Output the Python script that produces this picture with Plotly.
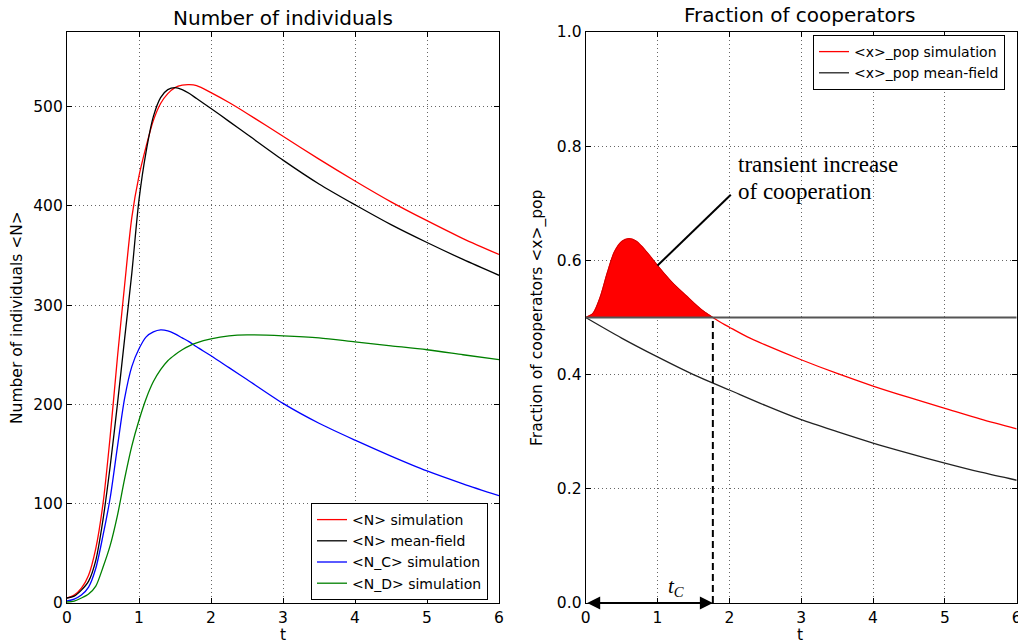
import plotly.graph_objects as go

# ---------------- data ----------------
t_n = [0, 0.1, 0.2, 0.3, 0.4, 0.5, 0.6, 0.7, 0.8, 0.9, 1.0, 1.1, 1.2, 1.3, 1.4, 1.5,
       1.6, 1.7, 1.8, 2.0, 2.25, 2.5, 3.0, 3.5, 4.0, 4.5, 5.0, 5.5, 6.0]
n_sim = [5, 8, 15, 28, 55, 100, 168, 247, 320, 388, 430, 460, 486, 503, 513, 519,
         521.5, 522, 521, 514, 504, 493, 470, 447, 425, 404, 385, 367, 351]
n_mf = [5, 7, 13, 22, 43, 84, 138, 200, 266, 332, 406, 455, 490, 509, 517, 519,
        517, 513, 508, 498, 485, 472, 446, 422, 401, 381, 363, 346, 330]
nc_sim = [2, 4, 8, 16, 35, 68, 106, 157, 206, 238, 256, 268, 273, 275, 274, 271,
          267, 263, 258, 249, 237, 225, 201, 181, 164, 148, 133, 120, 108]
nd_sim = [1, 2, 5, 9, 17, 36, 58, 88, 125, 158, 184, 206, 223, 235, 244, 250,
          255, 259, 262, 266, 269, 270, 269, 267, 263, 259, 255, 250, 245]

t_pop = [0, 0.1, 0.2, 0.3, 0.4, 0.5, 0.6, 0.7, 0.8, 0.9, 1.0, 1.2, 1.4, 1.6, 1.77,
         1.9, 2.0, 2.25, 2.5, 3.0, 3.5, 4.0, 4.5, 5.0, 5.5, 6.0]
x_sim = [0.5, 0.507, 0.535, 0.578, 0.615, 0.633, 0.638, 0.634, 0.622, 0.607, 0.591,
         0.562, 0.538, 0.515, 0.5, 0.49, 0.483, 0.466, 0.452, 0.426, 0.402, 0.380,
         0.360, 0.341, 0.322, 0.305]
t_mf = [0, 0.5, 1.0, 1.5, 2.0, 2.5, 3.0, 3.5, 4.0, 4.5, 5.0, 5.5, 6.0]
x_mf = [0.5, 0.464, 0.431, 0.400, 0.373, 0.346, 0.321, 0.300, 0.280, 0.262, 0.245,
        0.229, 0.215]
X_START = 0.5      # initial fraction of cooperators
T_C = 1.77         # end of transient increase

W, H = 1018, 643

fig = go.Figure()

# ---- left panel ----
left_series = [
    ("&lt;N&gt; simulation", n_sim, "#ff0000"),
    ("&lt;N&gt; mean-field", n_mf, "#000000"),
    ("&lt;N_C&gt; simulation", nc_sim, "#0000ff"),
    ("&lt;N_D&gt; simulation", nd_sim, "#008000"),
]
for name, ys, col in left_series:
    fig.add_trace(go.Scatter(x=t_n, y=ys, mode="lines", name=name,
                             line=dict(color=col, width=1.3, shape="spline", smoothing=0.8),
                             xaxis="x", yaxis="y", legend="legend"))

# ---- right panel ----
fig.add_trace(go.Scatter(x=t_pop, y=x_sim, mode="lines", name="&lt;x&gt;_pop simulation",
                         line=dict(color="#ff0000", width=1.3, shape="spline", smoothing=0.8),
                         xaxis="x2", yaxis="y2", legend="legend2"))
fig.add_trace(go.Scatter(x=t_mf, y=x_mf, mode="lines", name="&lt;x&gt;_pop mean-field",
                         line=dict(color="#222222", width=1.3, shape="spline", smoothing=0.8),
                         xaxis="x2", yaxis="y2", legend="legend2"))

hump_t = [t for t in t_pop if t <= T_C]
hump_x = x_sim[:len(hump_t)]
fig.add_trace(go.Scatter(x=[0, T_C], y=[X_START, X_START], mode="lines",
                         line=dict(width=0, color="rgba(0,0,0,0)"), showlegend=False,
                         hoverinfo="skip", xaxis="x2", yaxis="y2"))
fig.add_trace(go.Scatter(x=hump_t, y=hump_x, mode="lines", fill="tonexty",
                         fillcolor="#ff0000",
                         line=dict(color="#cc0000", width=1, shape="spline", smoothing=0.8),
                         showlegend=False, hoverinfo="skip", xaxis="x2", yaxis="y2"))

# horizontal reference line at 0.5, dashed line at t_C, pointer line
fig.add_shape(type="line", xref="x2", yref="y2", x0=0, x1=6, y0=X_START, y1=X_START,
              line=dict(color="#555555", width=2))
fig.add_shape(type="line", xref="x2", yref="y2", x0=T_C, x1=T_C, y0=0, y1=X_START,
              line=dict(color="#000000", width=2, dash="7px,4px"))
fig.add_shape(type="line", xref="x2", yref="y2", x0=1.0, y0=0.591, x1=2.02, y1=0.715,
              line=dict(color="#000000", width=2))

# ---------------- axes ----------------
axis_common = dict(showline=True, linecolor="black", linewidth=1.2, mirror="ticks",
                   ticks="inside", ticklen=5, tickcolor="black", tickwidth=1,
                   showgrid=True, gridcolor="rgba(0,0,0,0.6)", gridwidth=1,
                   griddash="1px,3px", zeroline=False, automargin=False,
                   ticklabeloverflow="allow",
                   tickfont=dict(family="DejaVu Sans", size=15.5, color="black"))

yd = [40 / H, 611 / H]
legend_common = dict(xanchor="left", yanchor="top", bgcolor="white", bordercolor="black",
                     borderwidth=1, traceorder="normal",
                     font=dict(family="DejaVu Sans", size=14, color="black"))
fig.update_layout(
    width=W, height=H,
    margin=dict(l=0, r=0, t=0, b=0, pad=0, autoexpand=False),
    paper_bgcolor="white", plot_bgcolor="white",
    xaxis=dict(domain=[67 / W, 499 / W], range=[0, 6], dtick=1, anchor="y", **axis_common),
    yaxis=dict(domain=yd, range=[0, 575], dtick=100, anchor="x", **axis_common),
    xaxis2=dict(domain=[585.7 / W, 1016.7 / W], range=[0, 6], dtick=1, anchor="y2", **axis_common),
    yaxis2=dict(domain=yd, range=[0, 1], dtick=0.2, tickformat=".1f", anchor="x2", **axis_common),
    legend=dict(x=311 / W, y=1 - 503 / H, **legend_common),
    legend2=dict(x=813 / W, y=1 - 35 / H, **legend_common),
    showlegend=True,
)

ann_font = dict(family="DejaVu Sans", color="black")
annotations = [
    dict(text="Number of individuals", x=283 / W, y=1 - 18 / H, xref="paper", yref="paper",
         showarrow=False, xanchor="center", yanchor="middle", font=dict(size=20, **ann_font)),
    dict(text="Fraction of cooperators", x=800 / W, y=1 - 15 / H, xref="paper", yref="paper",
         showarrow=False, xanchor="center", yanchor="middle", font=dict(size=20, **ann_font)),
    dict(text="t", x=283 / W, y=1 - 635 / H, xref="paper", yref="paper",
         showarrow=False, xanchor="center", yanchor="middle", font=dict(size=15.5, **ann_font)),
    dict(text="t", x=800 / W, y=1 - 635 / H, xref="paper", yref="paper",
         showarrow=False, xanchor="center", yanchor="middle", font=dict(size=15.5, **ann_font)),
    dict(text="Number of individuals &lt;N&gt;", x=17 / W, y=1 - 318 / H, xref="paper", yref="paper",
         showarrow=False, textangle=-90, xanchor="center", yanchor="middle",
         font=dict(size=15.5, **ann_font)),
    dict(text="Fraction of cooperators &lt;x&gt;_pop", x=537 / W, y=1 - 318 / H, xref="paper",
         yref="paper", showarrow=False, textangle=-90, xanchor="center", yanchor="middle",
         font=dict(size=15.5, **ann_font)),
    # annotation text (two lines)
    dict(text="transient increase", x=2.09, y=0.793, xref="x2", yref="y2",
         showarrow=False, xanchor="left", yanchor="top",
         font=dict(family="Liberation Serif", size=23, color="black")),
    dict(text="of cooperation", x=2.09, y=0.746, xref="x2", yref="y2",
         showarrow=False, xanchor="left", yanchor="top",
         font=dict(family="Liberation Serif", size=23, color="black")),
    # t_C double arrow
    dict(text="", x=T_C, y=0, ax=0, ay=0, xref="x2", yref="y2", axref="x2", ayref="y2",
         showarrow=True, arrowhead=2, arrowside="end+start", arrowsize=1.3, arrowwidth=2,
         arrowcolor="black"),
    dict(text="<i>t</i><sub><i>C</i></sub>", x=T_C * 0.71, y=0.028, xref="x2", yref="y2",
         showarrow=False, xanchor="center", yanchor="middle",
         font=dict(family="Liberation Serif", size=21, color="black")),
]
fig.update_layout(annotations=annotations)

fig.write_html("out.html")
